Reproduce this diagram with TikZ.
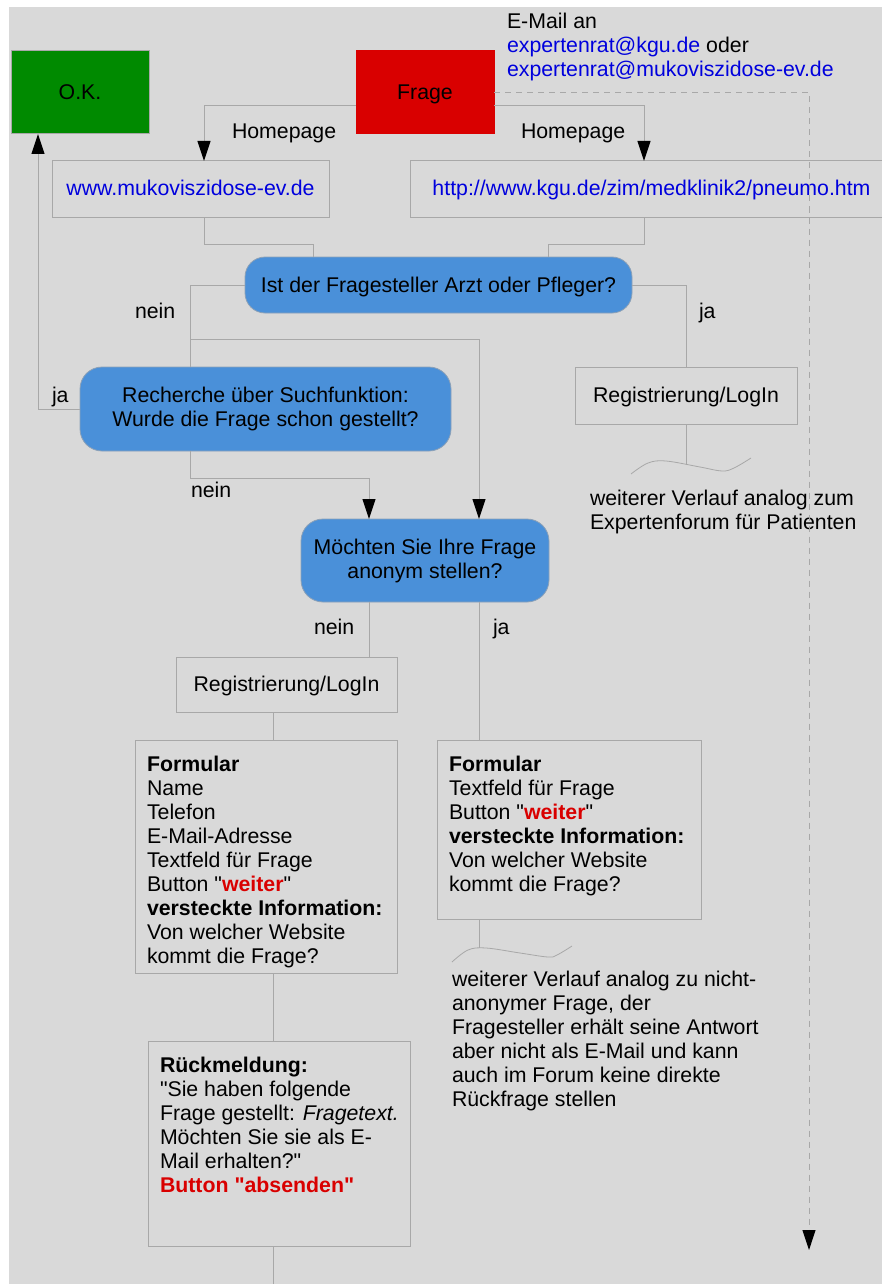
\documentclass[tikz,border=0pt]{standalone}
\usepackage{fontspec}
\setmainfont{Liberation Sans}[Ligatures=TeXOff]
\usetikzlibrary{arrows.meta,calc}
\definecolor{bggray}{RGB}{217,217,217}
\definecolor{linegray}{RGB}{168,168,168}
\definecolor{okgreen}{RGB}{0,138,0}
\definecolor{frred}{RGB}{217,0,0}
\definecolor{decblue}{RGB}{74,144,217}
\definecolor{linkblue}{RGB}{0,0,221}
\definecolor{txtred}{RGB}{217,0,0}
\begin{document}
\begin{tikzpicture}[x=1pt,y=-1pt,
  font=\fontsize{21.3pt}{24pt}\selectfont,
  every node/.style={inner sep=0pt,outer sep=0pt},
  boxnode/.style={draw=linegray,line width=1pt,rectangle},
  oneline/.style={text height=16.5pt,text depth=2.5pt},
  decnode/.style={draw=linegray!70!decblue,line width=0.8pt,fill=decblue,rounded corners=20pt,align=center},
  lab/.style={anchor=base west},
  para/.style={anchor=north west,align=left},
  conn/.style={draw=linegray,line width=1pt},
  arr/.style={conn,-{Triangle[width=13pt,length=20pt,color=black]}},
  dasharr/.style={draw=linegray,line width=1pt,dash pattern=on 6pt off 5pt,-{Triangle[width=13pt,length=20pt,color=black]}},
  wave/.style={draw=linegray,line width=0.8pt}]
\useasboundingbox (0,0) rectangle (882,1284);
\clip (0,0) rectangle (882,1284);
\fill[white] (0,0) rectangle (882,1284);
\fill[bggray] (9,7) rectangle (882,1284);

% top boxes
\node[boxnode,oneline,fill=okgreen,minimum width=138pt,minimum height=83pt] (ok) at (80,92.5) {O.K.};
\node[boxnode,oneline,fill=frred,draw=frred,minimum width=138pt,minimum height=83pt] (frage) at (425,92.5) {Frage};
\node[para] (mail) at (507,13) {E-Mail an\\ \textcolor{linkblue}{expertenrat@kgu.de} oder\\ \textcolor{linkblue}{expertenrat@mukoviszidose-ev.de}};

\node[boxnode,oneline,minimum width=277pt,minimum height=56pt,text=linkblue] (www) at (190.5,189) {www.mukoviszidose-ev.de};
\node[boxnode,oneline,minimum width=483pt,minimum height=56pt,text=linkblue] (http) at (651.5,189) {http://www.kgu.de/zim/medklinik2/pneumo.htm};

\node[lab] (hp1) at (232,139) {Homepage};
\node[lab] (hp2) at (521,139) {Homepage};

% decisions
\node[decnode,oneline,minimum width=387pt,minimum height=56pt] (dec1) at (438.5,285) {Ist der Fragesteller Arzt oder Pfleger?};
\node[decnode,minimum width=371pt,minimum height=84pt,rounded corners=22pt] (dec2) at (265.5,409) {Recherche über Suchfunktion:\\ Wurde die Frage schon gestellt?};
\node[decnode,minimum width=248pt,minimum height=83pt,rounded corners=22pt] (dec3) at (425,560.5) {Möchten Sie Ihre Frage\\ anonym stellen?};

\node[boxnode,oneline,minimum width=222pt,minimum height=57pt] (reg1) at (686,395.5) {Registrierung/LogIn};
\node[boxnode,oneline,minimum width=221pt,minimum height=55pt] (reg2) at (286.5,684.5) {Registrierung/LogIn};

\node[boxnode,minimum width=262pt,minimum height=233pt] (form1) at (266,856.5) {};
\node[boxnode,minimum width=264pt,minimum height=179pt] (form2) at (569,829.5) {};
\node[boxnode,minimum width=262pt,minimum height=205pt] (rueck) at (279,1143.5) {};

\node[para] (form1txt) at (147,756) {\textbf{Formular}\\ Name\\ Telefon\\ E-Mail-Adresse\\ Textfeld für Frage\\ Button "\textcolor{txtred}{\textbf{weiter}}"\\ \textbf{versteckte Information:}\\ Von welcher Website\\ kommt die Frage?};
\node[para] (form2txt) at (449,756) {\textbf{Formular}\\ Textfeld für Frage\\ Button "\textcolor{txtred}{\textbf{weiter}}"\\ \textbf{versteckte Information:}\\ Von welcher Website\\ kommt die Frage?};
\node[para] (ruecktxt) at (160,1057) {\textbf{Rückmeldung:}\\ "Sie haben folgende\\ Frage gestellt: \textit{Fragetext.}\\ Möchten Sie sie als E-\\ Mail erhalten?"\\ \textcolor{txtred}{\textbf{Button "absenden"}}};

\node[para] (note1) at (590,490) {weiterer Verlauf analog zum\\ Expertenforum für Patienten};
\node[para] (note2) at (452,971) {weiterer Verlauf analog zu nicht-\\ anonymer Frage, der\\ Fragesteller erhält seine Antwort\\ aber nicht als E-Mail und kann\\ auch im Forum keine direkte\\ Rückfrage stellen};

% labels
\node[lab] (l1) at (135,318) {nein};
\node[lab] (l2) at (699,318) {ja};
\node[lab] (l3) at (52,402) {ja};
\node[lab] (l4) at (191,497) {nein};
\node[lab] (l5) at (314,634) {nein};
\node[lab] (l6) at (493,634) {ja};

% coordinates
\coordinate (j1) at (190,339);
\coordinate (mailend) at (809,1250);
\coordinate (bottomend) at (273,1290);
\coordinate (w1) at (686,465);
\coordinate (w2) at (479,948);

% connectors
\draw[arr] ([yshift=-13.5pt]frage.west) -| ([xshift=13.5pt]www.north);
\draw[arr] ([yshift=-13.5pt]frage.east) -| ([xshift=-7.5pt]http.north);
\draw[dasharr] (frage.east) -| (mailend);
\draw[conn] ([xshift=13.5pt]www.south) -- ++(0,27) -| ([xshift=-125.5pt]dec1.north);
\draw[conn] ([xshift=-7.5pt]http.south) -- ++(0,27) -| ([xshift=109.5pt]dec1.north);
\draw[conn] (dec1.west) -| ([xshift=-75.5pt]dec2.north);
\draw[arr] (j1) -| ([xshift=54pt]dec3.north);
\draw[conn] (dec1.east) -| (reg1.north);
\draw[arr] (dec2.west) -| ([xshift=-42pt]ok.south);
\draw[arr] ([xshift=-75.5pt]dec2.south) -- ++(0,27) -| ([xshift=-56pt]dec3.north);
\draw[conn] ([xshift=-56pt]dec3.south) -- ([xshift=82.5pt]reg2.north);
\draw[conn] ([xshift=54pt]dec3.south) -- ([xshift=-90pt]form2.north);
\draw[conn] ([xshift=-13.5pt]reg2.south) -- ([xshift=7pt]form1.north);
\draw[conn] ([xshift=7pt]form1.south) -- ([xshift=-6pt]rueck.north);
\draw[conn] ([xshift=-6pt]rueck.south) -- (bottomend);
\draw[conn] (reg1.south) -- (w1);
\draw[conn] ([xshift=-90pt]form2.south) -- (w2);

% waves
\draw[wave] plot[smooth,tension=0.6] coordinates {(631,474) (648,463) (666,461) (700,467) (722,471) (734,468) (751,458)};
\draw[wave] plot[smooth,tension=0.6] coordinates {(452,962) (468,950) (486,948) (520,953) (548,957) (557,955) (572,946)};
\end{tikzpicture}
\end{document}
